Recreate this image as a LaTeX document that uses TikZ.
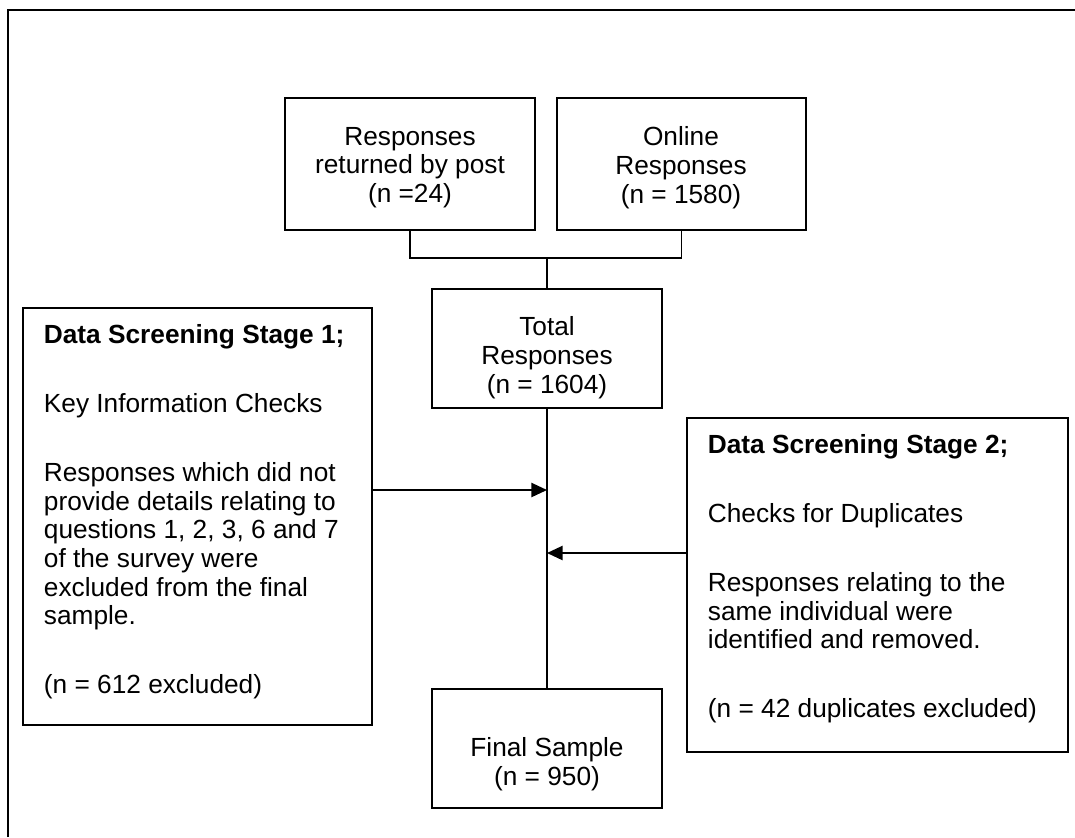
\documentclass[tikz,border=0pt]{standalone}
\usepackage{fontspec}
\setmainfont{Liberation Sans}
\usetikzlibrary{arrows.meta}
\newcommand{\pxu}{0.48pt}
\tikzset{every picture/.style={line width=0.9pt}}

\begin{document}
\begin{tikzpicture}[x=0.48pt,y=0.48pt,yscale=-1,xscale=1,
  box/.style={draw, rectangle, inner sep=0pt},
  txt/.style={inner sep=0pt, font=\fontsize{12.6}{13.7}\selectfont},
  flow/.style={-{Triangle[length=7.5pt,width=6.8pt]}}]
\useasboundingbox (0,0) rectangle (1075,837);

%Frame
\draw (8,837) -- (8,10) -- (1075,10) ;

%Boxes
\node [box, minimum width=250*\pxu, minimum height=132*\pxu] (post) at (410,164) {};
\node [box, minimum width=249*\pxu, minimum height=132*\pxu] (online) at (681.5,164) {};
\node [box, minimum width=230*\pxu, minimum height=119*\pxu] (total) at (547,348.5) {};
\node [box, minimum width=230*\pxu, minimum height=119*\pxu] (final) at (547,748.5) {};
\node [box, minimum width=349*\pxu, minimum height=417*\pxu] (stage1) at (197.5,516.5) {};
\node [box, minimum width=381*\pxu, minimum height=334*\pxu] (stage2) at (877.5,585) {};

%Connectors
\coordinate (join) at (547,258);
\coordinate (in1) at (547,490);
\coordinate (in2) at (547,553);
\draw (post.south) |- (join) -| (online.south) ;
\draw (join) -- (total.north) ;
\draw (total.south) -- (final.north) ;
\draw [flow] (stage1.east |- in1) -- (in1) ;
\draw [flow] (stage2.west |- in2) -- (in2) ;

% Text Node
\node [txt, anchor=north, align=center] (posttext) at (410,126) {Responses\\returned by post\\(n =24)};
% Text Node
\node [txt, anchor=north, align=center] (onlinetext) at (681,126) {Online\\Responses\\(n = 1580)};
% Text Node
\node [txt, anchor=north, align=center] (totaltext) at (547,316) {Total\\Responses\\(n = 1604)};
% Text Node
\node [txt, anchor=north, align=center] (finaltext) at (547,737) {Final Sample\\(n = 950)};
% Text Node
\node [txt, anchor=north west, align=left] (stage1text) at (43,324) {\textbf{Data Screening Stage 1;}\\[19.4pt]Key Information Checks\\[19.4pt]Responses which did not\\provide details relating to\\questions 1, 2, 3, 6 and 7\\of the survey were\\excluded from the final\\sample.\\[19.4pt](n = 612 excluded)};
% Text Node
\node [txt, anchor=north west, align=left] (stage2text) at (707,434) {\textbf{Data Screening Stage 2;}\\[19.4pt]Checks for Duplicates\\[19.4pt]Responses relating to the\\same individual were\\identified and removed.\\[19.4pt](n = 42 duplicates excluded)};

\end{tikzpicture}
\end{document}
